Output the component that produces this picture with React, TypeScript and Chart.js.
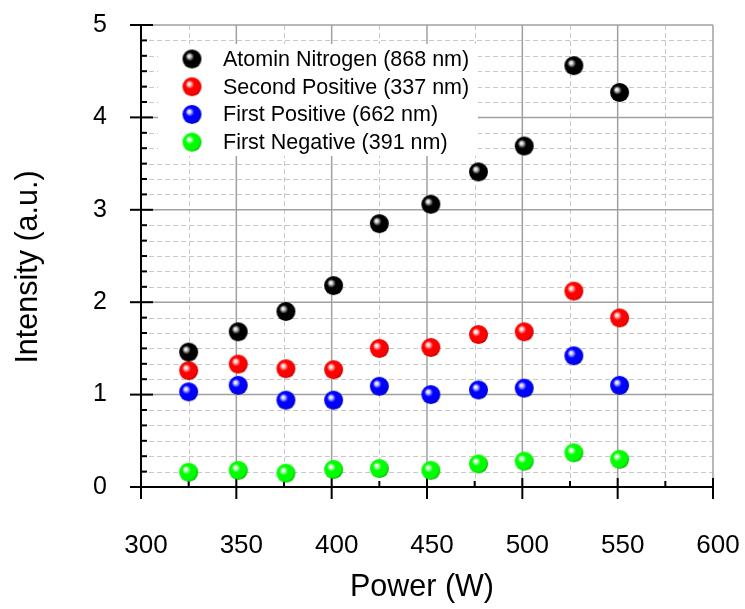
import React, { useEffect, useRef } from "react";
import { Chart, registerables } from "chart.js";

Chart.register(...registerables);

// ---- data ----
const powerW = [325, 351, 376, 401, 425, 452, 477, 501, 527, 551];
const atominNitrogen = [1.46, 1.68, 1.9, 2.18, 2.85, 3.06, 3.41, 3.69, 4.56, 4.27];
const secondPositive = [1.26, 1.33, 1.28, 1.27, 1.5, 1.51, 1.65, 1.68, 2.12, 1.83];
const firstPositive = [1.03, 1.1, 0.94, 0.94, 1.09, 1.0, 1.05, 1.07, 1.42, 1.1];
const firstNegative = [0.16, 0.18, 0.15, 0.19, 0.2, 0.18, 0.25, 0.28, 0.37, 0.3];
const seriesLabels = [
  "Atomin Nitrogen (868 nm)",
  "Second Positive (337 nm)",
  "First Positive (662 nm)",
  "First Negative (391 nm)",
];
const xTitle = "Power (W)";
const yTitle = "Intensity (a.u.)";
const xTickRange = { min: 300, max: 600, major: 50, minor: 25 };
const yTickRange = { min: 0, max: 5, major: 1, minorDiv: 6 };

// ---- styles ----
const FONT = "'Liberation Sans', Arial, sans-serif";
const sphereColors = [
  { hi: "#e8e8e8", base: "#000000", dark: "#000000" },
  { hi: "#ffe8e8", base: "#ff0000", dark: "#c00000" },
  { hi: "#e8e8ff", base: "#0000ff", dark: "#0000b0" },
  { hi: "#e8ffe8", base: "#00ff00", dark: "#00b400" },
];

function makeSphere(c: { hi: string; base: string; dark: string }, r: number) {
  const size = Math.ceil(2 * r + 2);
  const cv = document.createElement("canvas");
  cv.width = size;
  cv.height = size;
  const ctx = cv.getContext("2d")!;
  const cx = size / 2;
  const cy = size / 2;
  const g = ctx.createRadialGradient(cx - r * 0.32, cy - r * 0.32, 0, cx - r * 0.1, cy - r * 0.1, r * 1.1);
  g.addColorStop(0, c.hi);
  g.addColorStop(0.12, c.hi);
  g.addColorStop(0.42, c.base);
  g.addColorStop(0.85, c.base);
  g.addColorStop(1, c.dark);
  ctx.fillStyle = g;
  ctx.beginPath();
  ctx.arc(cx, cy, r, 0, Math.PI * 2);
  ctx.fill();
  return cv;
}

export default function App() {
  const ref = useRef<HTMLCanvasElement | null>(null);

  useEffect(() => {
    if (!ref.current) return;
    const spheres = sphereColors.map((c) => makeSphere(c, 9.5));
    const seriesValues = [atominNitrogen, secondPositive, firstPositive, firstNegative];

    const decorPlugin = {
      id: "decor",
      beforeDatasetsDraw(chart: any) {
        const { ctx, chartArea } = chart;
        const { left, right, top, bottom } = chartArea;
        const xs = chart.scales.x;
        const ys = chart.scales.y;
        ctx.save();
        // minor grid (dashed)
        ctx.strokeStyle = "#c8c8c8";
        ctx.lineWidth = 1;
        ctx.setLineDash([5, 3]);
        for (let v = xTickRange.min + xTickRange.minor; v < xTickRange.max; v += xTickRange.major) {
          const px = Math.round(xs.getPixelForValue(v)) + 0.5;
          ctx.beginPath();
          ctx.moveTo(px, top);
          ctx.lineTo(px, bottom);
          ctx.stroke();
        }
        for (let k = 1; k < (yTickRange.max - yTickRange.min) * yTickRange.minorDiv; k++) {
          if (k % yTickRange.minorDiv === 0) continue;
          const py = Math.round(ys.getPixelForValue(k / yTickRange.minorDiv)) + 0.5;
          ctx.beginPath();
          ctx.moveTo(left, py);
          ctx.lineTo(right, py);
          ctx.stroke();
        }
        // major grid
        ctx.setLineDash([]);
        ctx.strokeStyle = "#a0a0a0";
        ctx.lineWidth = 1.5;
        for (let v = xTickRange.min + xTickRange.major; v <= xTickRange.max; v += xTickRange.major) {
          const px = xs.getPixelForValue(v);
          ctx.beginPath();
          ctx.moveTo(px, top);
          ctx.lineTo(px, bottom);
          ctx.stroke();
        }
        for (let v = yTickRange.min + yTickRange.major; v <= yTickRange.max; v += yTickRange.major) {
          const py = ys.getPixelForValue(v);
          ctx.beginPath();
          ctx.moveTo(left, py);
          ctx.lineTo(right, py);
          ctx.stroke();
        }
        // legend box
        const lx = left + 17;
        const ly = top + 19;
        ctx.fillStyle = "#ffffff";
        ctx.fillRect(lx, ly, 320, 112);
        ctx.font = `21.5px ${FONT}`;
        ctx.fillStyle = "#000";
        ctx.textBaseline = "middle";
        ctx.textAlign = "left";
        seriesLabels.forEach((lab, i) => {
          const cy = ly + 15 + i * 27.7;
          const img = spheres[i];
          ctx.drawImage(img, lx + 34 - img.width / 2, cy - img.height / 2);
          ctx.fillText(lab, lx + 65, cy + 1);
        });
        // axes
        ctx.strokeStyle = "#000";
        ctx.lineWidth = 2;
        ctx.beginPath();
        ctx.moveTo(left, top);
        ctx.lineTo(left, bottom + 1);
        ctx.moveTo(left - 11, bottom);
        ctx.lineTo(right + 1, bottom);
        ctx.stroke();
        // y ticks
        for (let k = 0; k <= (yTickRange.max - yTickRange.min) * yTickRange.minorDiv; k++) {
          const py = ys.getPixelForValue(k / yTickRange.minorDiv);
          ctx.beginPath();
          if (k % yTickRange.minorDiv === 0) {
            ctx.moveTo(left - 11, py);
            ctx.lineTo(left + 12, py);
          } else {
            ctx.moveTo(left, py);
            ctx.lineTo(left + 6, py);
          }
          ctx.stroke();
        }
        // x ticks
        for (let v = xTickRange.min; v <= xTickRange.max; v += xTickRange.minor) {
          const px = xs.getPixelForValue(v);
          ctx.beginPath();
          if ((v - xTickRange.min) % xTickRange.major === 0) {
            ctx.moveTo(px, bottom - 9);
            ctx.lineTo(px, bottom + 12);
          } else {
            ctx.moveTo(px, bottom - 6);
            ctx.lineTo(px, bottom);
          }
          ctx.stroke();
        }
        // axis titles
        ctx.fillStyle = "#000";
        ctx.font = `30.5px ${FONT}`;
        ctx.textAlign = "center";
        ctx.textBaseline = "middle";
        ctx.fillText(xTitle, (left + right) / 2 - 5, 588);
        ctx.save();
        ctx.translate(29, (top + bottom) / 2 + 11);
        ctx.rotate(-Math.PI / 2);
        ctx.fillText(yTitle, 0, 0);
        ctx.restore();
        ctx.restore();
      },
    };

    const zeroPad = (s: any) => {
      s.paddingLeft = 0;
      s.paddingRight = 0;
      s.paddingTop = 0;
      s.paddingBottom = 0;
    };

    const chart = new Chart(ref.current, {
      type: "scatter",
      data: {
        datasets: seriesValues.map((vals, i) => ({
          label: seriesLabels[i],
          data: vals.map((v, j) => ({ x: powerW[j], y: v })),
          pointStyle: spheres[i] as any,
          pointRadius: 10,
          showLine: false,
        })),
      },
      options: {
        animation: false,
        responsive: false,
        maintainAspectRatio: false,
        layout: { padding: { top: 25, right: 32, left: 0, bottom: 0 } },
        plugins: { legend: { display: false }, tooltip: { enabled: false } },
        scales: {
          x: {
            type: "linear",
            min: xTickRange.min,
            max: xTickRange.max,
            grid: { display: false, drawTicks: false },
            border: { display: false },
            ticks: {
              stepSize: xTickRange.major,
              color: "#000",
              padding: 43,
              labelOffset: 5,
              maxRotation: 0,
              font: { family: FONT, size: 26 },
            },
            afterFit(s: any) {
              s.height = 122;
              zeroPad(s);
            },
          },
          y: {
            type: "linear",
            min: yTickRange.min,
            max: yTickRange.max,
            grid: { display: false, drawTicks: false },
            border: { display: false },
            ticks: {
              stepSize: yTickRange.major,
              color: "#000",
              padding: 34,
              font: { family: FONT, size: 25 },
            },
            afterFit(s: any) {
              s.width = 141;
              zeroPad(s);
            },
          },
        },
      },
      plugins: [decorPlugin],
    });
    return () => chart.destroy();
  }, []);

  return (
    <div style={{ position: "fixed", left: 0, top: 0, width: 745, height: 609, background: "#fff" }}>
      <canvas ref={ref} width={745} height={609} style={{ width: 745, height: 609 }} />
    </div>
  );
}
